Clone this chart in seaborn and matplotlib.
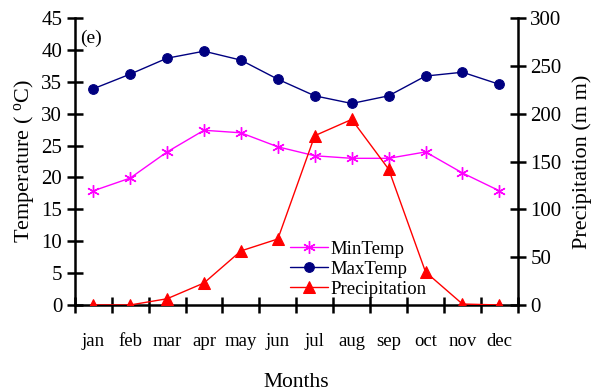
import matplotlib
matplotlib.use("Agg")
import matplotlib.pyplot as plt
import seaborn as sns
import numpy as np

# donnees
mois = ["jan", "feb", "mar", "apr", "may", "jun", "jul", "aug", "sep", "oct", "nov", "dec"]
max_temp = [33.9, 36.2, 38.7, 39.8, 38.4, 35.4, 32.8, 31.6, 32.8, 35.9, 36.5, 34.6]
min_temp = [17.9, 19.9, 24.0, 27.4, 27.0, 24.8, 23.4, 23.0, 23.0, 24.0, 20.7, 17.9]
precip = [0.0, 0.0, 6.5, 23.0, 56.5, 69.0, 177.0, 194.0, 142.0, 34.5, 1.0, 0.0]

sns.set_style("ticks", {"axes.edgecolor": "black", "xtick.color": "black",
                        "ytick.color": "black", "text.color": "black",
                        "axes.labelcolor": "black"})
plt.rcParams['font.family'] = ['Liberation Serif', 'DejaVu Serif']
plt.rcParams['mathtext.fontset'] = 'custom'
plt.rcParams['mathtext.rm'] = 'Liberation Serif'
plt.rcParams['mathtext.it'] = 'Liberation Serif'

fig = plt.figure(figsize=(5.98, 3.92), dpi=100)
ax = fig.add_axes([0.125, 0.222, 0.741, 0.732])
ax2 = ax.twinx()

x = np.arange(len(mois))
sns.lineplot(x=x, y=min_temp, ax=ax, color="#FF00FF", marker=(6, 2, 0), markersize=9,
             markeredgecolor="#FF00FF", markeredgewidth=1.0, linewidth=1, label="MinTemp")
sns.lineplot(x=x, y=max_temp, ax=ax, color="#000080", marker="o", markersize=7,
             markeredgecolor="#000080", linewidth=1, label="MaxTemp")
sns.lineplot(x=x, y=precip, ax=ax2, color="#FF0000", marker="^", markersize=8,
             markeredgecolor="#FF0000", linewidth=1, label="Precipitation")

ax.set_xlim(-0.5, 11.5)
ax.set_ylim(0, 45)
ax2.set_ylim(0, 300)
ax.set_yticks(np.arange(0, 46, 5))
ax2.set_yticks(np.arange(0, 301, 50))
ax.set_xticks(x)
ax.set_xticklabels(mois, fontsize=13.5)
ax.set_xticks(np.arange(-0.5, 12, 1), minor=True)
ax.tick_params(axis='x', which='major', length=0, pad=20)
ax.tick_params(axis='x', which='minor', direction='inout', length=12, width=1.8)
ax.tick_params(axis='y', direction='inout', length=12, width=1.8, labelsize=15, pad=3)
ax2.tick_params(axis='y', direction='inout', length=12, width=1.8, labelsize=15, pad=3)

for a in (ax, ax2):
    a.spines['top'].set_visible(False)
    for s in ('left', 'right', 'bottom'):
        a.spines[s].set_linewidth(1.8)
ax.spines['right'].set_visible(False)
ax2.spines['left'].set_visible(False)
ax2.spines['bottom'].set_visible(False)

ax.set_xlabel("Months", fontsize=15.5, labelpad=17)
ax.set_ylabel("Temperature ( $^{\\rm o}$C)", fontsize=16, labelpad=4)
ax2.set_ylabel("Precipitation (m m)", fontsize=16, labelpad=8)
ax.text(0.012, 0.96, "(e)", transform=ax.transAxes, fontsize=14, va='top')
ax.grid(False)
ax2.grid(False)

h1, l1 = ax.get_legend_handles_labels()
h2, l2 = ax2.get_legend_handles_labels()
ax.get_legend().remove()
ax2.legend(h1 + h2, l1 + l2, loc='upper left', bbox_to_anchor=(0.47, 0.41),
           bbox_transform=fig.transFigure, frameon=False, fontsize=13.5,
           handlelength=2.0, handletextpad=0.12, labelspacing=0.15, borderpad=0)

fig.savefig("out.png", dpi=100)
